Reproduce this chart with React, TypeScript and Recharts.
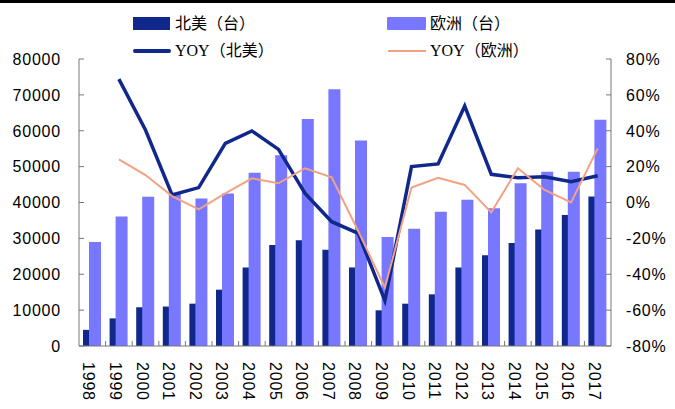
import { Bar, ComposedChart, Line, XAxis, YAxis } from "recharts";

const years = ["1998", "1999", "2000", "2001", "2002", "2003", "2004", "2005", "2006", "2007", "2008", "2009", "2010", "2011", "2012", "2013", "2014", "2015", "2016", "2017"];
const northAmerica = [4500, 7700, 10800, 11000, 11800, 15700, 21900, 28150, 29450, 26850, 21900, 9950, 11800, 14400, 21900, 25300, 28700, 32500, 36500, 41700];
const europe = [29000, 36100, 41600, 42700, 41100, 42500, 48300, 53200, 63300, 71600, 57300, 30400, 32700, 37400, 40800, 38400, 45400, 48600, 48600, 63100];
const yoyNorthAmerica = [null, 68.8, 40.4, 4.2, 8.3, 33.0, 39.9, 29.6, 5.1, -10.7, -17.2, -54.7, 20.0, 21.5, 53.8, 15.7, 13.8, 14.4, 11.6, 14.9];
const yoyEurope = [null, 24.1, 15.3, 3.6, -3.8, 5.1, 13.5, 10.7, 19.1, 14.0, -16.0, -47.5, 8.3, 13.8, 9.8, -5.5, 19.1, 7.0, 0.0, 30.2];
const leftTicks = [0, 10000, 20000, 30000, 40000, 50000, 60000, 70000, 80000];
const rightTicks = [-80, -60, -40, -20, 0, 20, 40, 60, 80];

const data = years.map((year, i) => ({
  year,
  na: northAmerica[i],
  eu: europe[i],
  yoyNa: yoyNorthAmerica[i],
  yoyEu: yoyEurope[i],
}));

const W = 675;
const H = 409;
const LEFT_W = 79;
const RIGHT_W = 64;
const BAND = (W - LEFT_W - RIGHT_W) / years.length;

const DARK = "#10288C";
const LIGHT = "#7777FF";
const ORANGE = "#F2A282";
const AXIS = "#777777";
const FONT = "'Liberation Sans', Arial, sans-serif";

const LeftTick = (props: any) => {
  const { x, y, payload } = props;
  return (
    <g>
      <line x1={x + 18} x2={x + 23} y1={y} y2={y} stroke={AXIS} />
      <text x={x} y={y} dy="0.36em" textAnchor="end" fontSize={16} letterSpacing={0.8} fontFamily={FONT} fill="#000">
        {payload.value}
      </text>
    </g>
  );
};

const RightTick = (props: any) => {
  const { x, y, payload } = props;
  return (
    <g>
      <line x1={x - 15} x2={x - 20} y1={y} y2={y} stroke={AXIS} />
      <text x={x} y={y} dy="0.36em" textAnchor="start" fontSize={16} letterSpacing={0.8} fontFamily={FONT} fill="#000">
        {payload.value}%
      </text>
    </g>
  );
};

const BottomTick = (props: any) => {
  const { x, y, payload, index } = props;
  return (
    <g>
      {index < years.length - 1 && (
        <line x1={x + BAND / 2} x2={x + BAND / 2} y1={y} y2={y - 5} stroke={AXIS} />
      )}
      <text
        transform={`translate(${x},${y + 16}) rotate(90)`}
        dy="0.55em"
        textAnchor="start"
        fontSize={16}
        letterSpacing={0.8}
        fontFamily={FONT}
        fill="#000"
      >
        {payload.value}
      </text>
    </g>
  );
};

const legendText = {
  position: "absolute" as const,
  fontSize: 16,
  lineHeight: "16px",
  fontFamily: "'Liberation Serif', 'Times New Roman', 'Noto Sans CJK SC', serif",
  color: "#000",
  whiteSpace: "nowrap" as const,
};

function ChartLegend() {
  return (
    <>
      <div style={{ position: "absolute", left: 133, top: 17, width: 37, height: 13, background: DARK }} />
      <div style={{ ...legendText, left: 175, top: 16 }}>北美（台）</div>
      <div style={{ position: "absolute", left: 387, top: 17, width: 39, height: 13, background: LIGHT, borderRadius: 1 }} />
      <div style={{ ...legendText, left: 430, top: 16 }}>欧洲（台）</div>
      <div style={{ position: "absolute", left: 133, top: 49, width: 38, height: 3.5, background: DARK, borderRadius: 2 }} />
      <div style={{ ...legendText, left: 175, top: 43 }}>YOY（北美）</div>
      <div style={{ position: "absolute", left: 388, top: 50, width: 38, height: 2, background: ORANGE }} />
      <div style={{ ...legendText, left: 430, top: 43 }}>YOY（欧洲）</div>
    </>
  );
}

export default function App() {
  return (
    <div style={{ position: "absolute", left: 0, top: 0, width: W, height: H, background: "#fff" }}>
      <div style={{ position: "absolute", left: 0, top: 0, width: W, height: 3, background: "#000" }} />
      <ComposedChart
        width={W}
        height={H}
        data={data}
        barGap={-6}
        margin={{ top: 59, right: 0, bottom: 0, left: 0 }}
      >
        <XAxis
          dataKey="year"
          height={63}
          interval={0}
          tickSize={0}
          tickMargin={0}
          tickLine={false}
          axisLine={{ stroke: AXIS }}
          tick={<BottomTick />}
        />
        <YAxis
          yAxisId="left"
          width={LEFT_W}
          domain={[0, 80000]}
          ticks={leftTicks}
          interval={0}
          tickSize={0}
          tickMargin={18}
          tickLine={false}
          axisLine={{ stroke: AXIS }}
          tick={<LeftTick />}
        />
        <YAxis
          yAxisId="right"
          orientation="right"
          width={RIGHT_W}
          domain={[-80, 80]}
          ticks={rightTicks}
          interval={0}
          tickSize={0}
          tickMargin={15}
          tickLine={false}
          axisLine={{ stroke: AXIS }}
          tick={<RightTick />}
        />
        <Bar yAxisId="left" dataKey="na" fill={DARK} barSize={12} isAnimationActive={false} />
        <Bar yAxisId="left" dataKey="eu" fill={LIGHT} barSize={12} isAnimationActive={false} />
        <Line
          yAxisId="right"
          dataKey="yoyNa"
          stroke={DARK}
          strokeWidth={3.5}
          dot={false}
          type="linear"
          isAnimationActive={false}
        />
        <Line
          yAxisId="right"
          dataKey="yoyEu"
          stroke={ORANGE}
          strokeWidth={2}
          dot={false}
          type="linear"
          isAnimationActive={false}
        />
      </ComposedChart>
      <ChartLegend />
    </div>
  );
}
